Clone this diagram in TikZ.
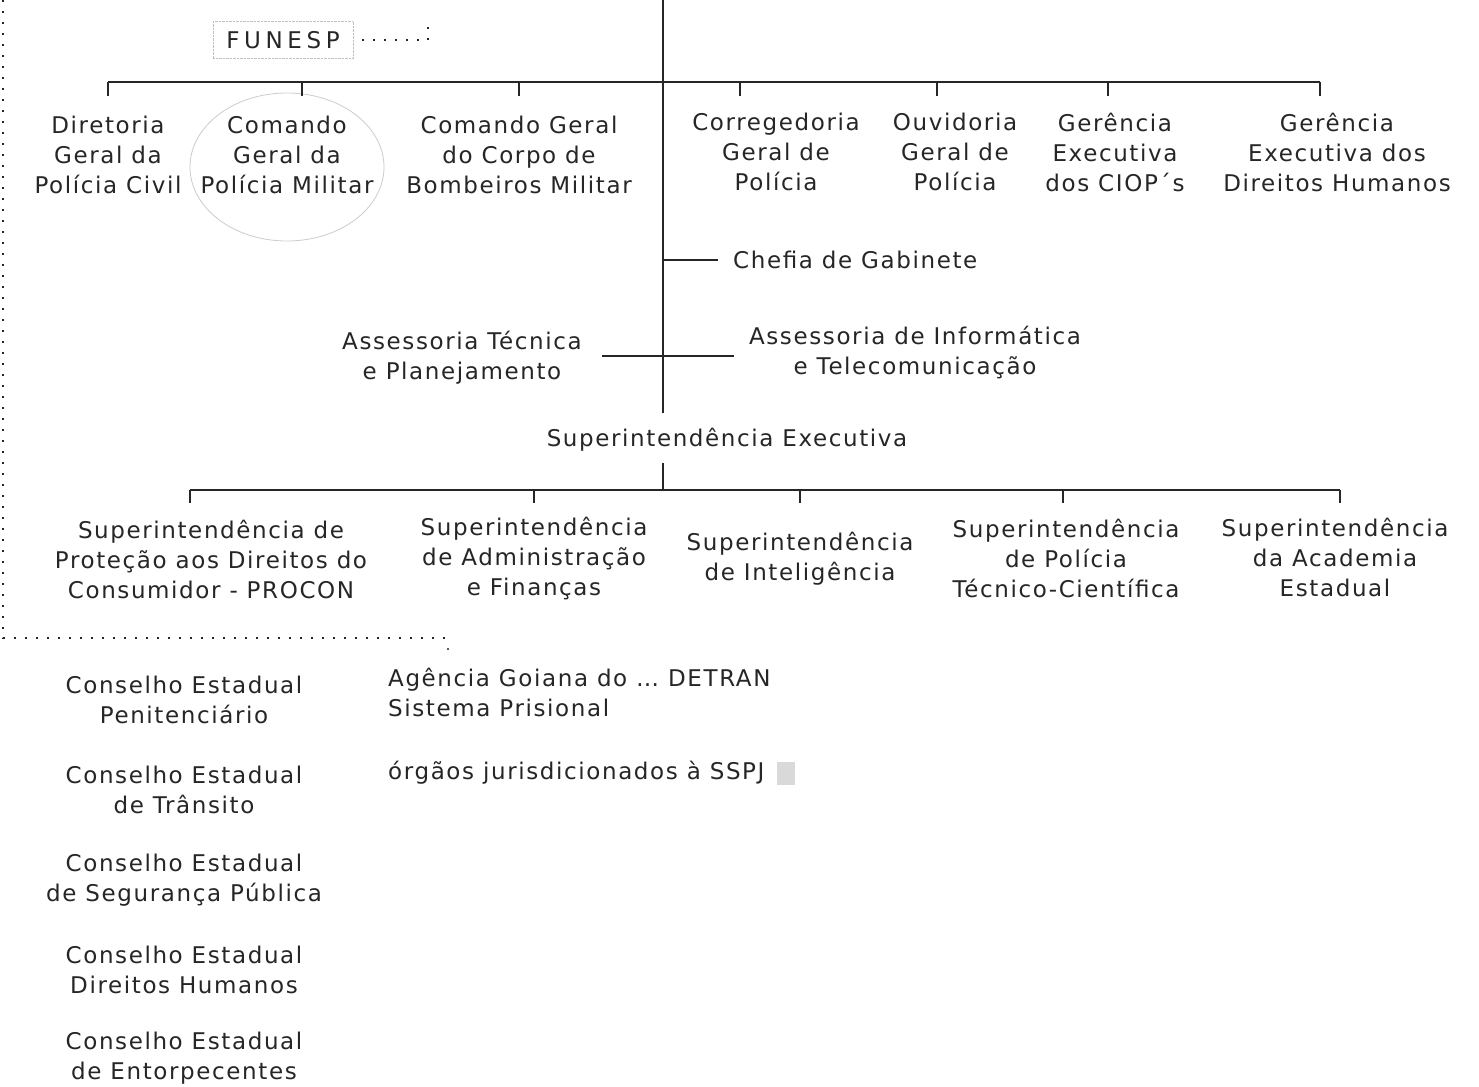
\documentclass[tikz,border=0pt]{standalone}
\usepackage{fontspec}
\setmainfont{DejaVu Sans}
\newfontfamily\lsfont{DejaVu Sans}[LetterSpace=7]
\newfontfamily\wlsfont{DejaVu Sans}[LetterSpace=20]
\usetikzlibrary{calc}
\definecolor{ink}{HTML}{262626}
\begin{document}
\begin{tikzpicture}[x=1pt,y=-1pt,
  lbl/.style={align=center,inner sep=0pt,text=ink,font=\lsfont\fontsize{23}{30}\selectfont},
  conn/.style={line width=1.3pt,black!85},
  dots/.style={line width=2pt,black!85,dash pattern=on 2pt off 9pt}]
\useasboundingbox (0,0) rectangle (1479,1086);
\fill[white] (0,0) rectangle (1479,1086);

% faint circle
\draw[black!20,line width=0.8pt] (287,167) ellipse (97 and 74);

% FUNESP
\node[draw=black!25,densely dotted,inner sep=0pt,minimum width=140pt,minimum height=37pt,text=ink,font=\wlsfont\fontsize{23}{28}\selectfont] (fun) at (283,40) {FUNESP};
\coordinate (fd) at (428,40);
\draw[dots] ($(fun.east)+(9,0)$) -- (fd) -- ++(0,-19);

% outer dotted frame
\coordinate (fa) at (3,0);
\coordinate (fb) at (3,638);
\coordinate (fc) at (448,638);
\draw[dots] (fa) -- (fb) -- (fc);
\fill[black!85] ($(fc)+(0,11)$) circle (1.1pt);

% top row
\node[lbl] (dg)  at (108,155) {Diretoria\\Geral da\\Polícia Civil};
\node[lbl] (cpm) at (287,155) {Comando\\Geral da\\Polícia Militar};
\node[lbl] (cbm) at (519,155) {Comando Geral\\do Corpo de\\Bombeiros Militar};
\node[lbl] (cor) at (776,152) {Corregedoria\\Geral de\\Polícia};
\node[lbl] (ouv) at (955,152) {Ouvidoria\\Geral de\\Polícia};
\node[lbl] (gci) at (1115,152) {Gerência\\Executiva\\dos CIOP´s};
\node[lbl] (gdh) at (1337,152) {Gerência\\Executiva dos\\Direitos Humanos};

% middle
\node[lbl,anchor=west] (chef) at (733,260) {Chefia de Gabinete};
\node[lbl] (ati) at (462,358) {Assessoria Técnica\\e Planejamento};
\node[lbl] (aic) at (915,353) {Assessoria de Informática\\e Telecomunicação};
\node[lbl] (se)  at (727,440) {Superintendência Executiva};

% bottom row
\node[lbl] (s1) at (211,559) {Superintendência de\\Proteção aos Direitos do\\Consumidor - PROCON};
\node[lbl] (s2) at (534,559) {Superintendência\\de Administração\\e Finanças};
\node[lbl] (s3) at (800,559) {Superintendência\\de Inteligência};
\node[lbl] (s4) at (1066,558) {Superintendência\\de Polícia\\Técnico-Científica};
\node[lbl] (s5) at (1335,557) {Superintendência\\da Academia\\Estadual};

% councils
\node[lbl] (c1) at (184,700) {Conselho Estadual\\Penitenciário};
\node[lbl] (c2) at (184,790) {Conselho Estadual\\de Trânsito};
\node[lbl] (c3) at (184,880) {Conselho Estadual\\de Segurança Pública};
\node[lbl] (c4) at (184,970) {Conselho Estadual\\Direitos Humanos};
\node[lbl] (c5) at (184,1058) {Conselho Estadual\\de Entorpecentes};

\node[lbl,align=left,anchor=west] (ag) at (388,692) {Agência Goiana do … DETRAN\\Sistema Prisional};
\node[lbl,anchor=west] (org) at (388,773) {órgãos jurisdicionados à SSPJ};
\fill[black!15] ($(org.east)+(12,-11)$) rectangle ++(18,23);

% main trunk
\coordinate (top) at (663,0);
\draw[conn] (top) -- ($(top |- se.north)+(0,-15)$);

% top bus
\coordinate (bl) at (108,82);
\coordinate (br) at (1320,82);
\draw[conn] (bl) -- (br);
\foreach \x [count=\i] in {108,302,519,740,937,1108,1320}
  \coordinate (t\i) at (\x,96);
\foreach \i in {1,...,7}
  \draw[conn] (t\i |- bl) -- (t\i);

% chefia
\draw[conn] (top |- chef.west) -- ($(chef.west)+(-15,0)$);
% cross
\coordinate (cr) at (663,356);
\draw[conn] ($(ati.east |- cr)+(20,0)$) -- ($(aic.west |- cr)+(-15,0)$);

% bottom bus
\coordinate (b2) at (663,490);
\draw[conn] ($(top |- se.south)+(0,11)$) -- (b2);
\coordinate (cl) at (190,490);
\coordinate (crr) at (1340,490);
\draw[conn] (cl) -- (crr);
\foreach \x [count=\i] in {190,534,800,1063,1340}
  \coordinate (u\i) at (\x,503);
\foreach \i in {1,...,5}
  \draw[conn] (u\i |- cl) -- (u\i);
\end{tikzpicture}
\end{document}
